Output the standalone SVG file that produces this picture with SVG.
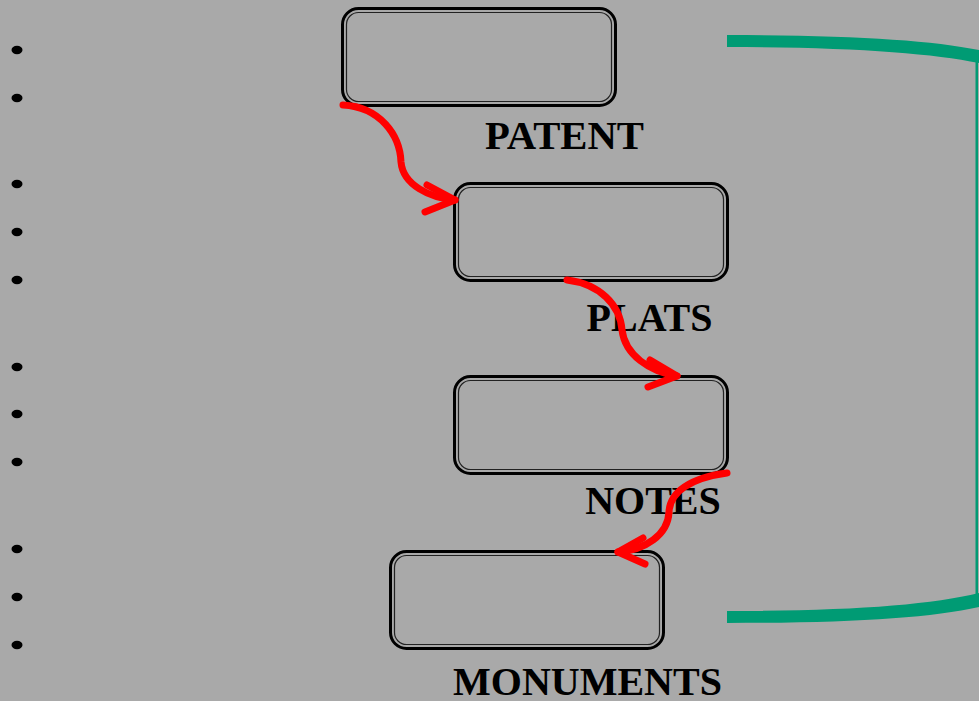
<svg xmlns="http://www.w3.org/2000/svg" width="979" height="701" viewBox="0 0 979 701">
<style>
.o{fill:none;stroke:#000;stroke-width:3}
.i{fill:none;stroke:#222;stroke-width:1.2}
.t{font-family:"Liberation Serif","Times New Roman",serif;font-weight:bold;font-size:40px;fill:#000}
.a{fill:none;stroke:#f00;stroke-width:7;stroke-linecap:round;stroke-linejoin:round}
.g{fill:#009B74}
.b{fill:#000}
</style>
<rect width="979" height="701" fill="#A9A9A9"/>
<g id="bullets">
<ellipse class="b" cx="17" cy="50" rx="5.5" ry="4.2"/>
<ellipse class="b" cx="17" cy="98" rx="5.5" ry="4.2"/>
<ellipse class="b" cx="17" cy="184" rx="5.5" ry="4.2"/>
<ellipse class="b" cx="17" cy="232" rx="5.5" ry="4.2"/>
<ellipse class="b" cx="17" cy="280" rx="5.5" ry="4.2"/>
<ellipse class="b" cx="17" cy="367" rx="5.5" ry="4.2"/>
<ellipse class="b" cx="17" cy="414" rx="5.5" ry="4.2"/>
<ellipse class="b" cx="17" cy="462" rx="5.5" ry="4.2"/>
<ellipse class="b" cx="17" cy="549" rx="5.5" ry="4.2"/>
<ellipse class="b" cx="17" cy="597" rx="5.5" ry="4.2"/>
<ellipse class="b" cx="17" cy="645" rx="5.5" ry="4.2"/>
</g>
<g id="patent">
<rect class="o" x="342.5" y="8.5" width="273" height="97" rx="16"/>
<rect class="i" x="346.5" y="12.5" width="265" height="89" rx="12"/>
<text class="t" x="564.5" y="149" text-anchor="middle" textLength="159" lengthAdjust="spacingAndGlyphs">PATENT</text>
</g>
<g id="plats">
<rect class="o" x="454.5" y="183.5" width="273" height="97" rx="16"/>
<rect class="i" x="458.5" y="187.5" width="265" height="89" rx="12"/>
<text class="t" x="649.5" y="331" text-anchor="middle">PLATS</text>
</g>
<g id="notes">
<rect class="o" x="454.5" y="376.5" width="273" height="97" rx="16"/>
<rect class="i" x="458.5" y="380.5" width="265" height="89" rx="12"/>
<text class="t" x="653" y="514" text-anchor="middle">NOTES</text>
</g>
<g id="monuments">
<rect class="o" x="390.5" y="551.5" width="273" height="97" rx="16"/>
<rect class="i" x="394.5" y="555.5" width="265" height="89" rx="12"/>
<text class="t" x="587.5" y="695" text-anchor="middle">MONUMENTS</text>
</g>
<g id="connectors">
<path class="a" d="M343,105 C380,107 400,135 401,162 C403,185 430,198 455,200"/>
<path class="a" d="M427,185 L455,200 L425,212"/>
<path class="a" d="M567,280 C600,284 620,305 622,330 C625,355 650,372 677,376"/>
<path class="a" d="M650,360 L677,376 L648,387"/>
<path class="a" d="M727,473 C690,478 670,492 669,512 C668,535 645,550 618,552"/>
<path class="a" d="M643,538 L618,552 L645,564"/>
<path class="g" d="M727,35 C850,35 930,40 979,50 L979,63 C930,53 850,47 727,47 Z"/>
<rect class="g" x="975.5" y="55" width="2.5" height="545"/>
<path class="g" d="M727,611 C850,611 930,605 979,593 L979,607 C930,618 850,623 727,623 Z"/>
</g>
</svg>
